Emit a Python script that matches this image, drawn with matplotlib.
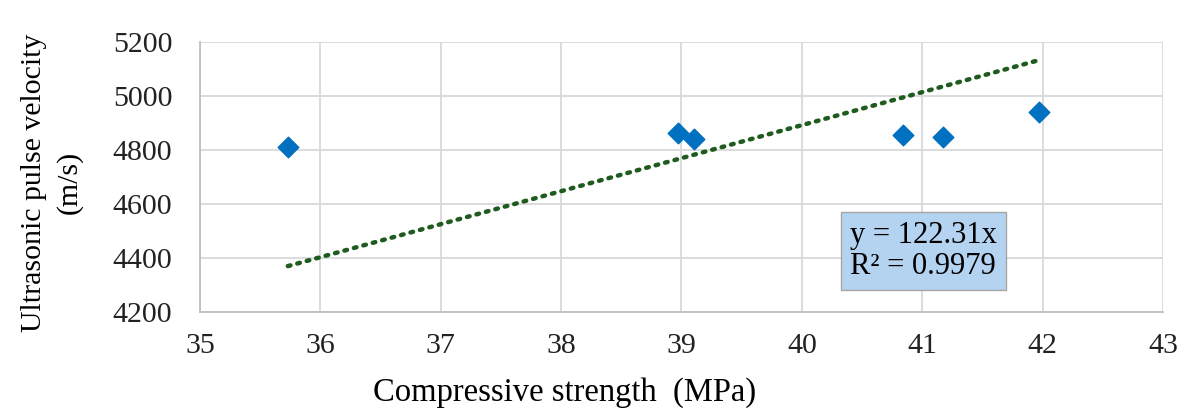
import numpy as np
import matplotlib
matplotlib.use('Agg')
import matplotlib.pyplot as plt

plt.rcParams['font.family'] = ['Liberation Serif', 'DejaVu Serif']

strength = [35.73, 38.97, 39.10, 40.84, 41.17, 41.97]
velocity = [4812, 4862, 4840, 4856, 4848, 4940]
slope = 122.31
xticks = [35, 36, 37, 38, 39, 40, 41, 42, 43]
yticks = [4200, 4400, 4600, 4800, 5000, 5200]

fig = plt.figure(figsize=(11.94, 4.12), dpi=100)
ax = fig.add_axes([0.1675, 0.2427, 0.8065, 0.655])

ax.grid(True, color='#d9d9d9', lw=1.3, zorder=0)
ax.set_axisbelow(True)

xt = np.array([min(strength), max(strength)])
ax.plot(xt, slope * xt, ls=(0, (0.6, 1.6)), color='#1e5b1e', lw=3.2,
        dash_capstyle='round', zorder=2)
ax.scatter(strength, velocity, marker='D', s=110, color='#0070c0', zorder=3)

ax.set_xlim(35, 43)
ax.set_ylim(4200, 5200)
ax.set_xticks(xticks)
ax.set_yticks(yticks)
ax.tick_params(labelsize=21.5, length=0, colors='#222222')
ax.tick_params(axis='y', pad=20)
ax.tick_params(axis='x', pad=15)
for s in ['top', 'right']:
    ax.spines[s].set_visible(False)
for s in ['left', 'bottom']:
    ax.spines[s].set_color('#bfbfbf')
    ax.spines[s].set_linewidth(1.3)

ax.set_xlabel('Compressive strength  (MPa)', fontsize=23.5, va='center')
ax.xaxis.set_label_coords(0.379, -0.30)
ax.set_ylabel('Ultrasonic pulse velocity\n(m/s)', fontsize=21.5,
              linespacing=1.45, va='center')
ax.yaxis.set_label_coords(-0.154, 0.48)

ax.text(0.675, 0.226, 'y = 122.31x\nR² = 0.9979', transform=ax.transAxes,
        fontsize=22, va='center', ha='left', linespacing=1.05,
        bbox=dict(boxstyle='square,pad=0.3', fc='#b4d3f0', ec='#a6a6a6', lw=1))

fig.savefig('out.png', dpi=100)
